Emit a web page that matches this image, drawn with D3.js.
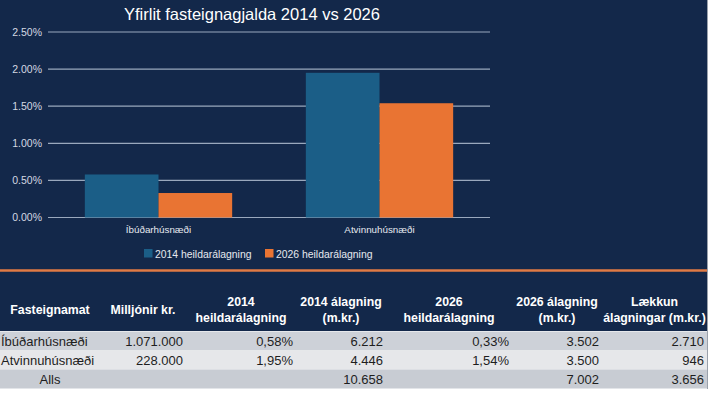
<!DOCTYPE html>
<html>
<head>
<meta charset="utf-8">
<script src="https://cdn.jsdelivr.net/npm/d3@7"></script>
<style>
	html, body { margin: 0; padding: 0; background: #ffffff; }
	svg { display: block; font-family: "Liberation Sans", Arial, sans-serif; }
</style>
</head>
<body>
<div id="chart"></div>
<script>
// chart data
var categories = ['Íbúðarhúsnæði', 'Atvinnuhúsnæði'];
var seriesNames = ['2014 heildarálagning', '2026 heildarálagning'];
var values2014 = [0.58, 1.95];
var values2026 = [0.33, 1.54];
var yTicks = [0, 0.5, 1, 1.5, 2, 2.5];

// table data
var tableHeaders = [['Fasteignamat'], ['Milljónir kr.'], ['2014', 'heildarálagning'], ['2014 álagning', '(m.kr.)'], ['2026', 'heildarálagning'], ['2026 álagning', '(m.kr.)'], ['Lækkun', 'álagningar (m.kr.)']];
var rowLabels = ['Íbúðarhúsnæði', 'Atvinnuhúsnæði', 'Alls'];
var colMillions = ['1.071.000', '228.000', ''];
var col2014Rate = ['0,58%', '1,95%', ''];
var col2014Amount = ['6.212', '4.446', '10.658'];
var col2026Rate = ['0,33%', '1,54%', ''];
var col2026Amount = ['3.502', '3.500', '7.002'];
var colDecrease = ['2.710', '946', '3.656'];

const WIDTH = 713;
const HEIGHT = 394;
const PANEL = 707;
var navy = '#13284a';
var colors = ['#1b5e87', '#e97433'];

var svg = d3.select('#chart').append('svg')
	.attr('width', WIDTH)
	.attr('height', HEIGHT);

svg.append('rect')
	.attr('width', WIDTH).attr('height', HEIGHT)
	.attr('fill', '#ffffff');
svg.append('rect')
	.attr('width', PANEL).attr('height', 331)
	.attr('fill', navy);

// title
svg.append('text')
	.attr('x', 252).attr('y', 19.5)
	.attr('text-anchor', 'middle')
	.attr('fill', '#ffffff')
	.style('font-size', '16.5px')
	.text('Yfirlit fasteignagjalda 2014 vs 2026');

// chart
var x = d3.scaleBand().domain(categories).range([48, 490]);
var x1 = d3.scaleBand().domain(seriesNames).range([0, x.bandwidth()]).paddingOuter(0.5).paddingInner(0);
var y = d3.scaleLinear().domain([0, 2.5]).range([217.5, 32]);

var grid = svg.append('g');
grid.selectAll('line').data(yTicks).enter().append('line')
	.attr('x1', 48).attr('x2', 490)
	.attr('y1', function (d) { return y(d); })
	.attr('y2', function (d) { return y(d); })
	.attr('stroke', '#9aa8bd')
	.attr('stroke-width', 1.2);
grid.selectAll('text').data(yTicks).enter().append('text')
	.attr('x', 42)
	.attr('y', function (d) { return y(d); })
	.attr('dy', '0.35em')
	.attr('text-anchor', 'end')
	.attr('fill', '#d4d9e2')
	.style('font-size', '10.5px')
	.text(function (d) { return d3.format('.2f')(d) + '%'; });

var series = [values2014, values2026];
var groups = svg.append('g').selectAll('g').data(categories).enter().append('g')
	.attr('transform', function (d) { return 'translate(' + x(d) + ',0)'; });
groups.selectAll('rect')
	.data(function (d, i) {
		return seriesNames.map(function (s, j) { return { key: s, value: series[j][i], idx: j }; });
	})
	.enter().append('rect')
	.attr('x', function (d) { return x1(d.key); })
	.attr('width', x1.bandwidth())
	.attr('y', function (d) { return y(d.value); })
	.attr('height', function (d) { return y(0) - y(d.value); })
	.attr('fill', function (d) { return colors[d.idx]; });

svg.append('g').selectAll('text').data(categories).enter().append('text')
	.attr('x', function (d) { return x(d) + x.bandwidth() / 2; })
	.attr('y', 233)
	.attr('text-anchor', 'middle')
	.attr('fill', '#e6e9ef')
	.style('font-size', '9.8px')
	.text(function (d) { return d; });

// legend
var legendX = [144, 265];
var legend = svg.append('g').selectAll('g').data(seriesNames).enter().append('g')
	.attr('transform', function (d, i) { return 'translate(' + legendX[i] + ',249)'; });
legend.append('rect')
	.attr('width', 8.5).attr('height', 8.5)
	.attr('fill', function (d, i) { return colors[i]; });
legend.append('text')
	.attr('x', 11).attr('y', 8.5)
	.attr('fill', '#e6e9ef')
	.style('font-size', '10.4px')
	.text(function (d) { return d; });

// orange divider
svg.append('line')
	.attr('x1', 0).attr('x2', PANEL)
	.attr('y1', 270.5).attr('y2', 270.5)
	.attr('stroke', '#e07a45')
	.attr('stroke-width', 2.5);

// table
var colEdges = [0, 100, 186, 296, 386, 512, 602, 707];
var columns = [rowLabels, colMillions, col2014Rate, col2014Amount, col2026Rate, col2026Amount, colDecrease];
var rowY = d3.scaleBand().domain(d3.range(rowLabels.length)).range([331.5, 388.5]);
var rowFill = ['#cdd1d8', '#e6e7ea', '#c8ccd3'];

var header = svg.append('g').selectAll('text').data(tableHeaders).enter().append('text')
	.attr('x', function (d, i) { return (colEdges[i] + colEdges[i + 1]) / 2; })
	.attr('y', function (d) { return d.length === 1 ? 314 : 306; })
	.attr('text-anchor', 'middle')
	.attr('fill', '#ffffff')
	.style('font-size', '12.3px')
	.style('font-weight', 'bold');
header.selectAll('tspan').data(function (d) { return d; }).enter().append('tspan')
	.attr('x', function () { return d3.select(this.parentNode).attr('x'); })
	.attr('dy', function (d, i) { return i === 0 ? 0 : 15.5; })
	.text(function (d) { return d; });

svg.append('g').selectAll('rect').data(rowLabels).enter().append('rect')
	.attr('x', 0).attr('width', PANEL)
	.attr('y', function (d, i) { return rowY(i); })
	.attr('height', rowY.bandwidth())
	.attr('fill', function (d, i) { return rowFill[i]; });

var cells = [];
columns.forEach(function (col, c) {
	col.forEach(function (v, r) { cells.push({ c: c, r: r, v: v }); });
});
svg.append('g').selectAll('text').data(cells).enter().append('text')
	.attr('x', function (d) {
		if (d.c === 0) return d.r === 2 ? 50 : 1;
		return colEdges[d.c + 1] - 3;
	})
	.attr('y', function (d) { return rowY(d.r) + rowY.bandwidth() / 2; })
	.attr('dy', '0.36em')
	.attr('text-anchor', function (d) {
		if (d.c === 0) return d.r === 2 ? 'middle' : 'start';
		return 'end';
	})
	.attr('fill', '#1e1e1e')
	.style('font-size', '13px')
	.text(function (d) { return d.v; });

svg.append('line')
	.attr('x1', PANEL + 0.5).attr('x2', PANEL + 0.5)
	.attr('y1', 0).attr('y2', 389)
	.attr('stroke', '#9aa1ab');
</script>
</body>
</html>
